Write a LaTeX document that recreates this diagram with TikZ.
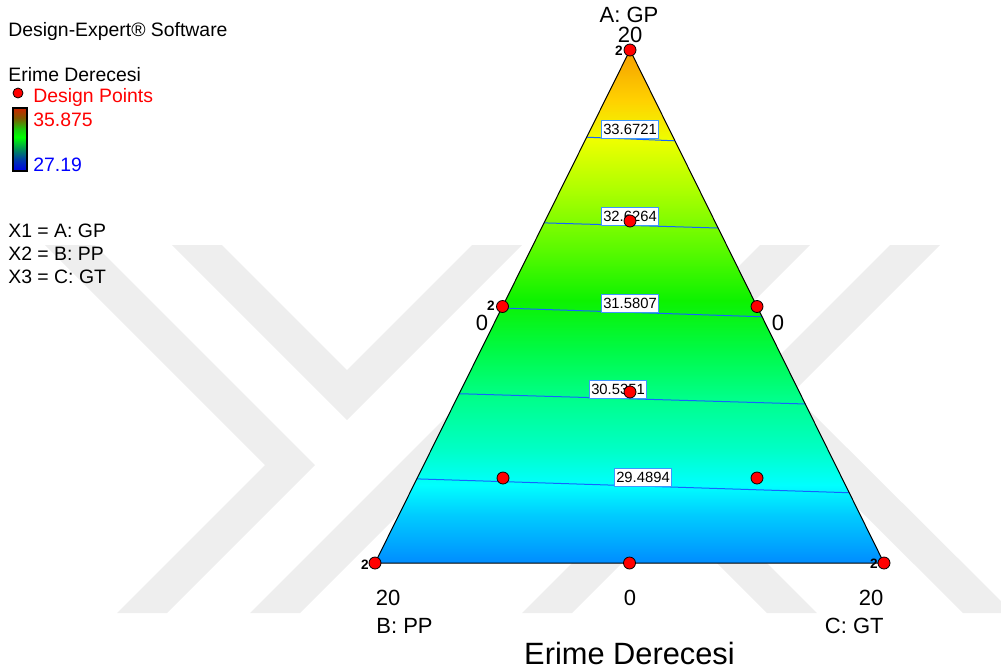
\documentclass[tikz,border=0pt]{standalone}
\usepackage{fontspec}
\setmainfont{Liberation Sans}
\usetikzlibrary{calc}

\definecolor{wmgray}{RGB}{238,238,238}
\definecolor{conblue}{RGB}{20,100,255}
\definecolor{boxblue}{RGB}{60,150,255}

\newcommand{\lgfont}{\fontsize{9.7pt}{11pt}\selectfont}
\newcommand{\axfont}{\fontsize{11pt}{13pt}\selectfont}
\newcommand{\ttlfont}{\fontsize{15.4pt}{18pt}\selectfont}
\newcommand{\cfont}{\fontsize{7.4pt}{9pt}\selectfont}
\newcommand{\pfont}{\fontsize{6.8pt}{7pt}\selectfont\bfseries}

% colour map of the response
\pgfdeclareverticalshading{erime}{100bp}{rgb(0bp)=(0,0.55,1); rgb(25bp)=(0,0.55,1);
	rgb(27.2bp)=(0,0.67,1); rgb(29.7bp)=(0,0.8,1); rgb(32.6bp)=(0,1,1);
	rgb(36bp)=(0,1,0.78); rgb(40.9bp)=(0,1,0.55); rgb(45.8bp)=(0,0.98,0.27);
	rgb(50.6bp)=(0.05,0.95,0); rgb(55.5bp)=(0.35,0.98,0); rgb(61.4bp)=(0.68,1,0);
	rgb(66.2bp)=(0.93,1,0); rgb(70.1bp)=(1,0.82,0); rgb(75bp)=(0.96,0.62,0);
	rgb(100bp)=(0.96,0.62,0)}
\pgfdeclareverticalshading{legendbar}{100bp}{rgb(0bp)=(0,0,0.9); rgb(25bp)=(0,0,0.9);
	rgb(33bp)=(0,0.2,0.7); rgb(42bp)=(0,0.55,0.35); rgb(52bp)=(0,1,0);
	rgb(58bp)=(0.1,0.8,0.05); rgb(67bp)=(0.5,0.35,0); rgb(75bp)=(0.8,0.15,0);
	rgb(100bp)=(0.8,0.15,0)}

\tikzset{
	wmark/.style={fill=wmgray},
	designpt/.style={circle,draw=black,fill=red,line width=0.4pt,inner sep=0pt,minimum size=6pt},
	contour/.style={draw=conblue,line width=0.5pt},
	conlabel/.style={draw=boxblue,fill=white,line width=0.5pt,font=\cfont,inner xsep=1pt,inner ysep=0.8pt,minimum height=9pt},
	ptcount/.style={font=\pfont,inner sep=0pt},
	lgtext/.style={font=\lgfont,anchor=base west,inner sep=0pt},
	axlabel/.style={font=\axfont,anchor=base,inner sep=0pt}
}

\begin{document}
\begin{tikzpicture}[x=0.5pt,y=-0.5pt]
	\useasboundingbox (0,0) rectangle (1001,670);
	% Watermark
	\fill[wmark] (45,245) -- (95,245) -- (315,465) -- (167,613) -- (117,613) -- (265,465) -- cycle;
	\fill[wmark] (172,245) -- (222,245) -- (347,370) -- (472,245) -- (522,245) -- (347,420) -- cycle;
	\fill[wmark] (250,613) -- (300,613) -- (668,245) -- (618,245) -- cycle;
	\fill[wmark] (760,245) -- (810,245) -- (629.5,425.5) -- (817,613) -- (767,613) -- (579.5,425.5) -- cycle;
	\fill[wmark] (890,245) -- (940,245) -- (572,613) -- (522,613) -- cycle;
	\fill[wmark] (963,613) -- (1013,613) -- (792,393) -- (767,418) -- cycle;
	% Legend
	\node[lgtext] (soft) at (8,36) {Design-Expert® Software};
	\node[lgtext] (resp) at (8,81) {Erime Derecesi};
	\node[designpt,minimum size=5pt] (lgdot) at (18,93) {};
	\node[lgtext,text=red] (lgpts) at (33,102) {Design Points};
	\shadedraw[shading=legendbar,draw=black,line width=0.8pt] (13,108) rectangle (27,171);
	\node[lgtext,text=red] (hival) at (33,126) {35.875};
	\node[lgtext,text=blue] (loval) at (33,171) {27.19};
	\node[lgtext] (xa) at (8,237) {X1 = A: GP};
	\node[lgtext] (xb) at (8,260) {X2 = B: PP};
	\node[lgtext] (xc) at (8,283) {X3 = C: GT};
	% Mixture triangle
	\coordinate (A) at (630,50);
	\coordinate (B) at (375,563);
	\coordinate (C) at (884,563);
	\shade[shading=erime] (A) -- (B) -- (C) -- cycle;
	% Contours
	\coordinate (l1) at ($(A)!0.170!(B)$); \coordinate (r1) at ($(A)!0.177!(C)$);
	\coordinate (l2) at ($(A)!0.337!(B)$); \coordinate (r2) at ($(A)!0.347!(C)$);
	\coordinate (l3) at ($(A)!0.503!(B)$); \coordinate (r3) at ($(A)!0.520!(C)$);
	\coordinate (l4) at ($(A)!0.670!(B)$); \coordinate (r4) at ($(A)!0.690!(C)$);
	\coordinate (l5) at ($(A)!0.836!(B)$); \coordinate (r5) at ($(A)!0.863!(C)$);
	\foreach \i in {1,...,5}
		\draw[contour] (l\i) -- (r\i);
	\draw[black,line width=0.5pt] (A) -- (B) -- (C) -- cycle;
	\node[conlabel] (c1) at (630,129) {33.6721};
	\node[conlabel] (c2) at (630,216) {32.6264};
	\node[conlabel] (c3) at (630,303) {31.5807};
	\node[conlabel] (c4) at (618,389) {30.5351};
	\node[conlabel] (c5) at (643,477) {29.4894};
	% Design points
	\node[designpt] (p1) at (A) {};
	\node[designpt] (p2) at ($(A)!0.5!(B)$) {};
	\node[designpt] (p3) at ($(A)!0.5!(C)$) {};
	\node[designpt] (p4) at (630,221) {};
	\node[designpt] (p5) at (630,392) {};
	\node[designpt] (p6) at (503,478) {};
	\node[designpt] (p7) at (757,478) {};
	\node[designpt] (p8) at (B) {};
	\node[designpt] (p9) at ($(B)!0.5!(C)$) {};
	\node[designpt] (p10) at (C) {};
	\node[ptcount] (n1) at (619,51) {2};
	\node[ptcount] (n2) at (491,306) {2};
	\node[ptcount] (n8) at (365,565) {2};
	\node[ptcount] (n10) at (874,564) {2};
	% Axis labels
	\node[axlabel] (atitle) at (629,22) {A: GP};
	\node[axlabel] (amax) at (630,42) {20};
	\node[axlabel] (amin1) at (482,330) {0};
	\node[axlabel] (amin2) at (778,330) {0};
	\node[axlabel] (bmax) at (388,605) {20};
	\node[axlabel] (bcmin) at (630,605) {0};
	\node[axlabel] (cmax) at (871,605) {20};
	\node[axlabel,anchor=base west] (btitle) at (376,633) {B: PP};
	\node[axlabel,anchor=base east] (ctitle) at (884,633) {C: GT};
	\node[font=\ttlfont,anchor=base,inner sep=0pt] (title) at (629.5,664) {Erime Derecesi};
\end{tikzpicture}
\end{document}
